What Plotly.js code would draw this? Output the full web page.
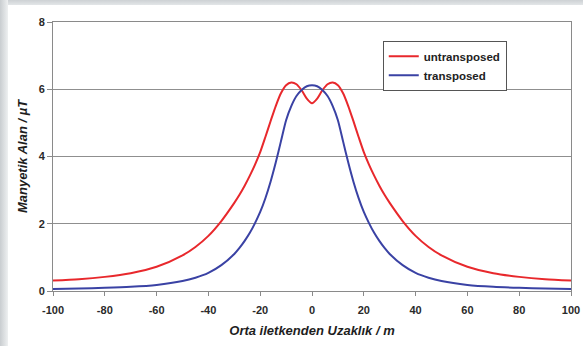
<!DOCTYPE html>
<html>
<head>
<meta charset="utf-8">
<script src="https://cdn.plot.ly/plotly-3.0.1.min.js"></script>
<style>
html,body{margin:0;padding:0;width:583px;height:346px;overflow:hidden;background:#ffffff;}
#frameTop{position:absolute;left:0;top:0;width:583px;height:5px;background:linear-gradient(#cdd1d4,#e3e6e8);}
#frameLeft{position:absolute;left:0;top:0;width:8px;height:346px;background:linear-gradient(to right,#c9cdd0,#eef0f1);}
#chart{position:absolute;left:7px;top:5px;width:576px;height:341px;}
</style>
</head>
<body>
<div id="frameTop"></div>
<div id="frameLeft"></div>
<div id="chart"></div>
<script>
// distance from middle conductor (m)
const distance = [-100,-90,-80,-70,-60,-50,-45,-40,-35,-30,-28,-26,-24,-22,-20,-18,-16,-14,-12,-10,-8,-6,-4,-2,0,
                  2,4,6,8,10,12,14,16,18,20,22,24,26,28,30,35,40,45,50,60,70,80,90,100];
// magnetic field, untransposed (µT)
const untransposed = [0.31,0.35,0.42,0.53,0.72,1.06,1.31,1.64,2.08,2.62,2.86,3.13,3.43,3.76,4.13,4.58,5.05,5.5,5.88,6.12,6.2,6.15,5.97,5.72,5.58,
                      5.72,5.97,6.15,6.2,6.12,5.88,5.5,5.05,4.58,4.13,3.76,3.43,3.13,2.86,2.62,2.08,1.64,1.31,1.06,0.72,0.53,0.42,0.35,0.31];
// magnetic field, transposed (µT)
const transposed = [0.06,0.075,0.095,0.125,0.18,0.295,0.395,0.54,0.77,1.1,1.28,1.49,1.73,2.02,2.35,2.76,3.25,3.82,4.45,5.08,5.5,5.8,5.98,6.09,6.12,
                    6.09,5.98,5.8,5.5,5.08,4.45,3.82,3.25,2.76,2.35,2.02,1.73,1.49,1.28,1.1,0.77,0.54,0.395,0.295,0.18,0.125,0.095,0.075,0.06];
const seriesNames = ["untransposed","transposed"];
const xTicks = [-100,-80,-60,-40,-20,0,20,40,60,80,100];
const yTicks = [0,2,4,6,8];

const traces = [
  {x: distance, y: untransposed, name: seriesNames[0], type: "scatter", mode: "lines",
   line: {color: "#e8282c", width: 2, shape: "spline", smoothing: 0.7}},
  {x: distance, y: transposed, name: seriesNames[1], type: "scatter", mode: "lines",
   line: {color: "#3a42a4", width: 2, shape: "spline", smoothing: 0.7}}
];

const tickFont = {family: "Liberation Sans, Arial, sans-serif", size: 11, color: "#2a2a2a", weight: "bold"};
const titleFont = {family: "Liberation Sans, Arial, sans-serif", size: 13, color: "#1e1e1e"};

const layout = {
  width: 576, height: 341,
  margin: {l: 46.3, r: 11.7, t: 17.3, b: 54.5, pad: 0},
  paper_bgcolor: "rgba(255,255,255,0)",
  plot_bgcolor: "#ffffff",
  showlegend: true,
  legend: {
    x: 0.876, xanchor: "right", xref: "paper",
    y: 0.93, yanchor: "top", yref: "paper",
    bgcolor: "#ffffff", bordercolor: "#555555", borderwidth: 1,
    font: {family: "Liberation Sans, Arial, sans-serif", size: 11.5, color: "#222222", weight: "bold"},
    itemwidth: 30, tracegroupgap: 0
  },
  xaxis: {
    range: [-100, 100], tickvals: xTicks, ticktext: xTicks.map(String),
    showgrid: false, zeroline: false,
    showline: true, linecolor: "#8a8a8a", linewidth: 1, mirror: true,
    ticks: "outside", ticklen: 4, tickcolor: "#8a8a8a",
    ticklabelstandoff: 5,
    tickfont: tickFont,
    title: {text: "<b><i>Orta iletkenden Uzaklık / m</i></b>", font: titleFont, standoff: 10}
  },
  yaxis: {
    range: [0, 8], tickvals: yTicks, ticktext: yTicks.map(String),
    showgrid: true, gridcolor: "#8f8f8f", gridwidth: 1, zeroline: false,
    showline: true, linecolor: "#8a8a8a", linewidth: 1, mirror: true,
    ticks: "outside", ticklen: 5, tickcolor: "#8a8a8a",
    tickfont: tickFont,
    title: {text: "<b><i>Manyetik Alan / µT</i></b>", font: titleFont, standoff: 8}
  }
};

Plotly.newPlot("chart", traces, layout, {displayModeBar: false, staticPlot: true});
</script>
</body>
</html>
